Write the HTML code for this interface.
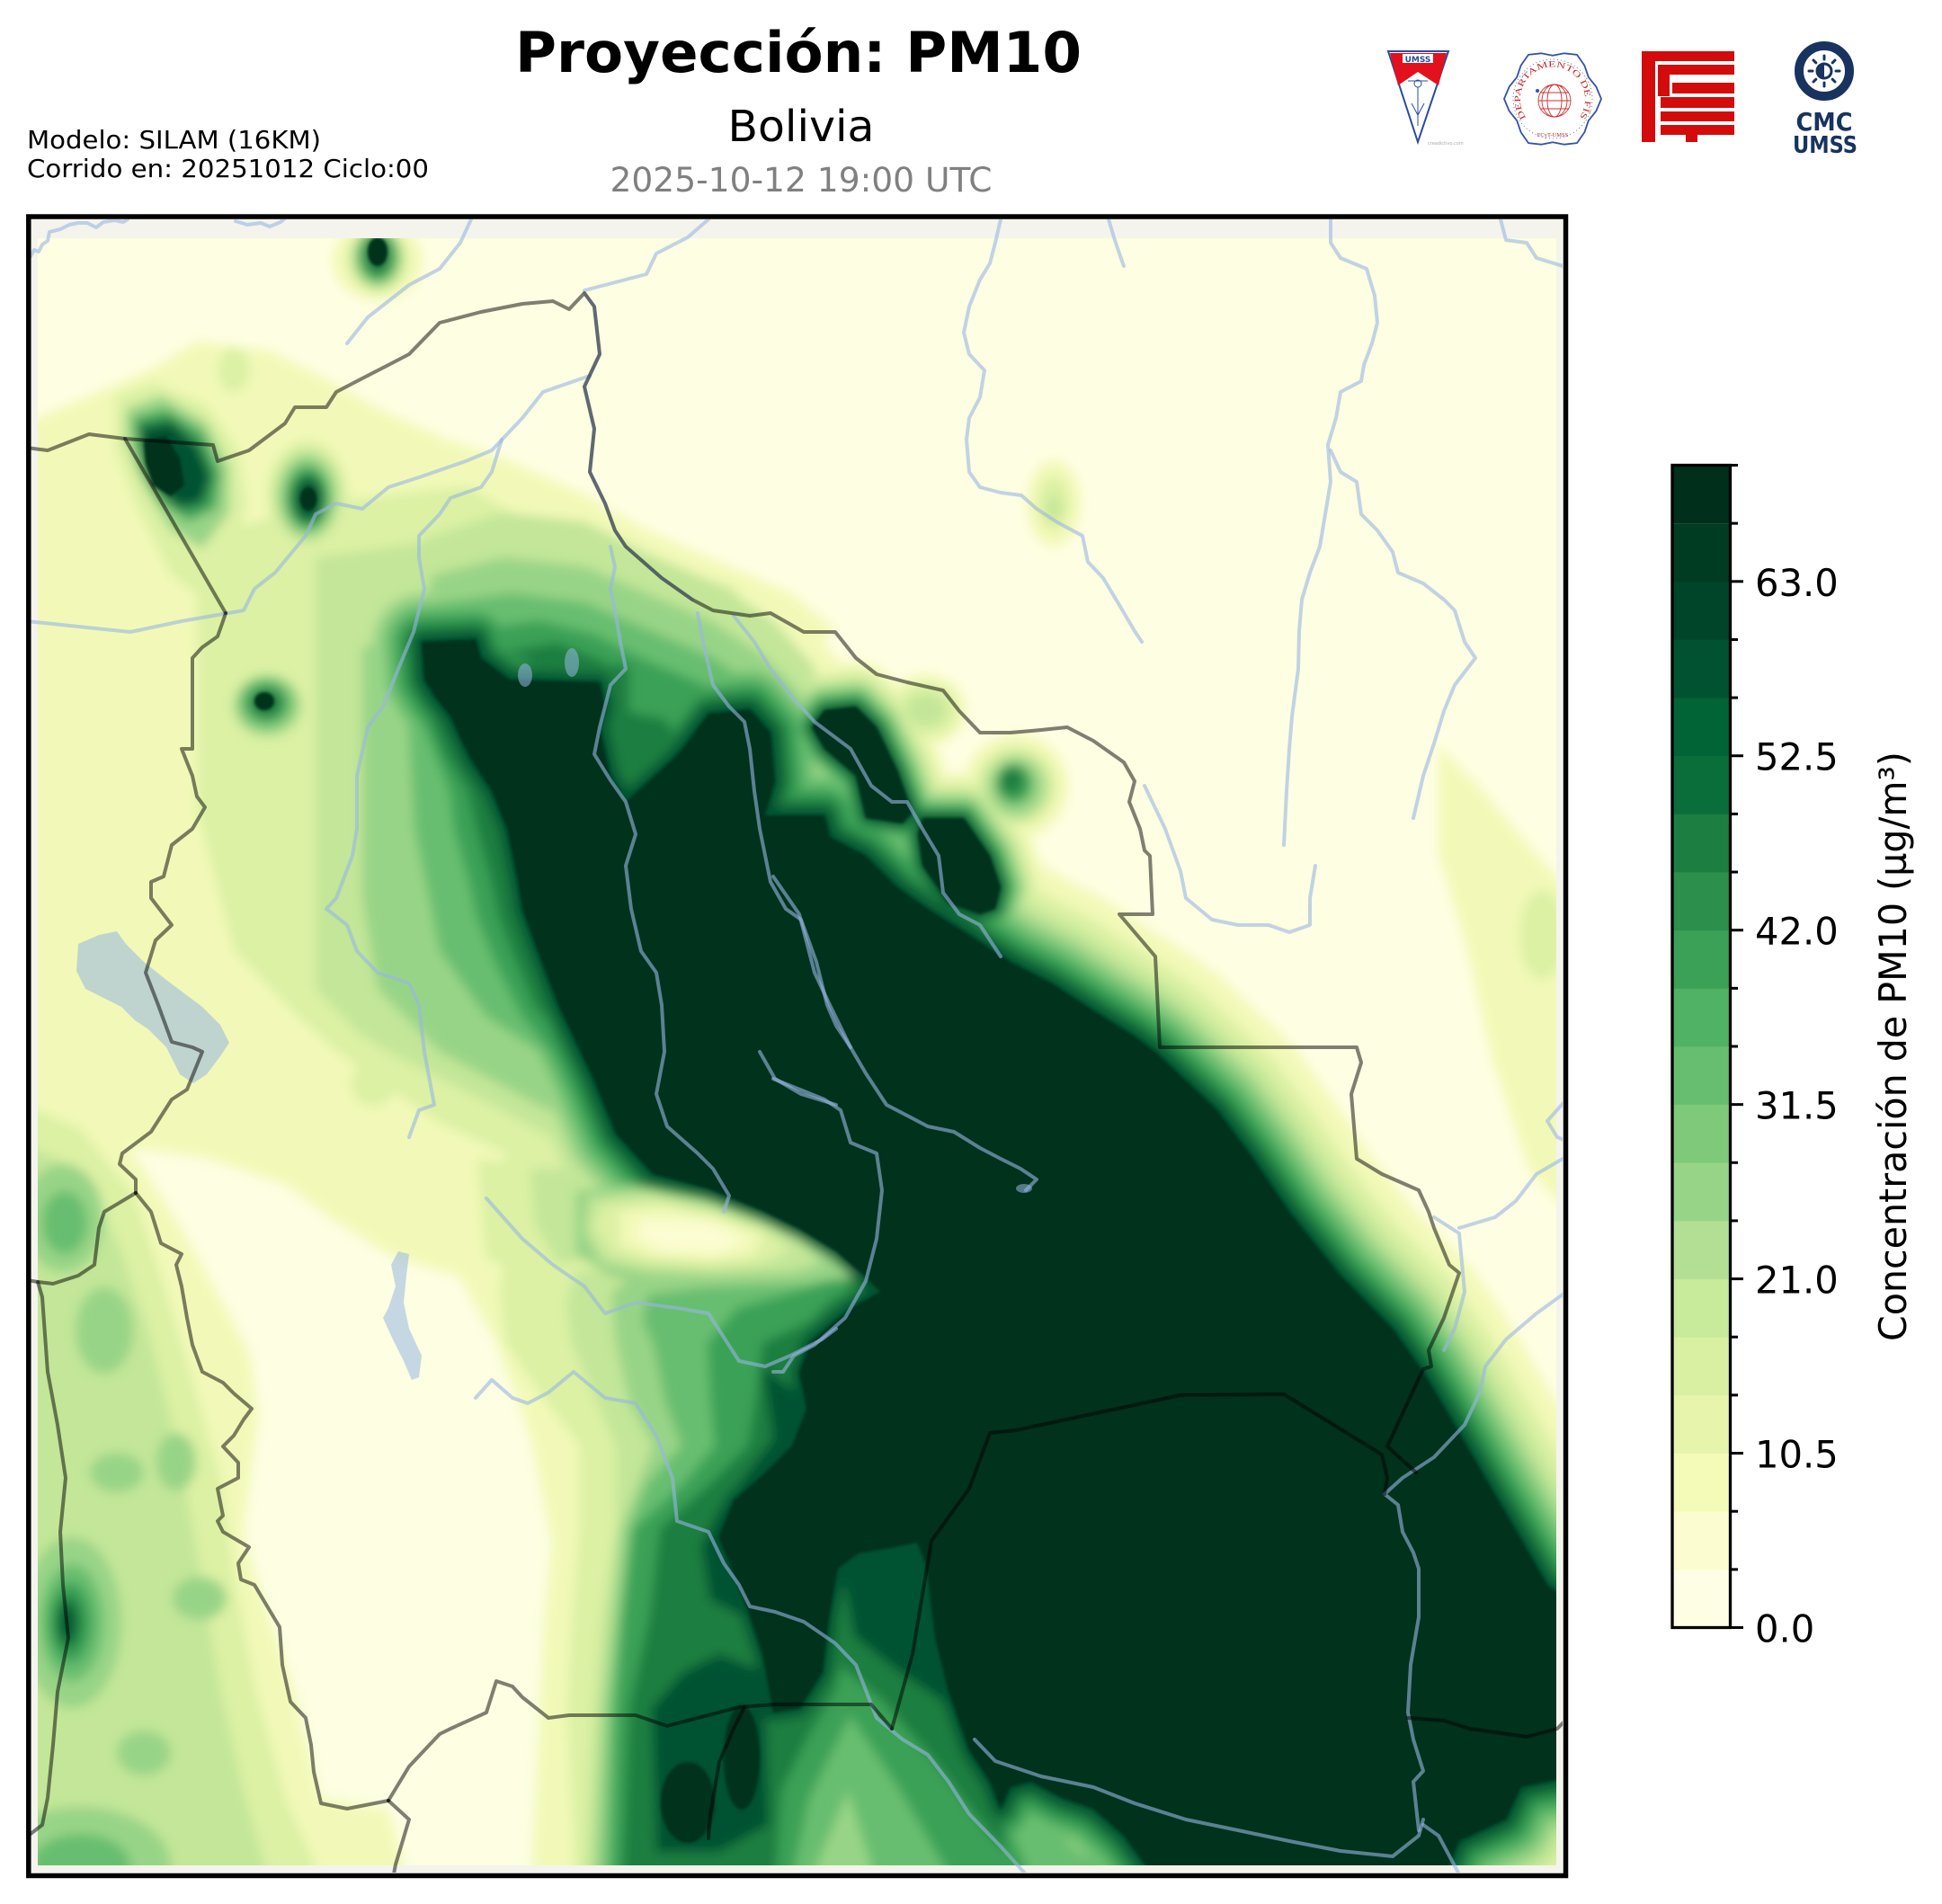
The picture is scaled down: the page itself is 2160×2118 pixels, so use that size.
<!DOCTYPE html>
<html><head><meta charset="utf-8"><style>html,body{margin:0;padding:0;background:#fff}svg{display:block}</style></head>
<body>
<svg xmlns="http://www.w3.org/2000/svg" width="2160" height="2118" viewBox="0 0 2160 2118" font-family="'DejaVu Sans','Liberation Sans',sans-serif">
<defs>
<clipPath id="dc"><rect x="42" y="265" width="1689" height="1810"/></clipPath>
<clipPath id="ac"><rect x="34.5" y="244" width="1703.5" height="1839"/></clipPath>
<filter id="bl" x="-5%" y="-5%" width="110%" height="110%"><feGaussianBlur stdDeviation="6"/></filter>
<filter id="bl2" x="-5%" y="-5%" width="110%" height="110%"><feGaussianBlur stdDeviation="1.5"/></filter>
<path id="D" d="M469,714 L529,711 535,732 567,756 667,759 673,786 667,809 679,863 696,892 748,845 759,833 788,794 834,789 857,815 862,869 851,907 917,907 923,931 963,952 998,987 1032,1011 1078,1040 1124,1070 1170,1094 1216,1124 1262,1153 1285,1170 1354,1235 1394,1289 1434,1348 1491,1419 1549,1478 1583,1526 1618,1585 1652,1644 1687,1704 1721,1763 1745,1781 1745,1977 1692,1988 1675,2024 1623,2048 1606,2090 1285,2090 1250,2042 1216,2012 1181,2000 1147,1982 1124,1988 1113,2012 1101,1982 1078,1947 1055,1882 1040,1822 1030,1740 1020,1716 990,1722 955,1728 932,1745 922,1800 915,1860 890,1900 860,1905 848,1840 832,1792 816,1751 799,1710 816,1669 848,1641 881,1608 897,1567 889,1527 901,1494 930,1469 950,1453 979,1437 962,1420 930,1392 889,1367 848,1347 787,1322 726,1306 685,1261 660,1200 621,1118 598,1058 581,1011 575,975 564,922 547,880 524,845 512,821 501,797 483,774 472,756 Z"/>
<path id="BA" d="M903,809 L917,790 952,786 975,809 998,857 1015,904 1004,916 963,910 952,863 917,833Z"/>
<path id="BB" d="M1021,928 L1026,910 1072,910 1101,952 1113,987 1107,1011 1090,1017 1055,1005 1026,963Z"/>
<path id="arc" d="M1697.5,131 A36,36 0 1,1 1756.5,131"/>
</defs>

<rect x="0" y="0" width="2160" height="2118" fill="#ffffff"/>

<!-- Header text -->
<text x="888" y="80" font-size="62" font-weight="bold" text-anchor="middle" textLength="630" lengthAdjust="spacingAndGlyphs" fill="#000">Proyección: PM10</text>
<text x="891" y="157" font-size="48.5" text-anchor="middle" textLength="163" lengthAdjust="spacingAndGlyphs" fill="#000">Bolivia</text>
<text x="891" y="213" font-size="37.5" text-anchor="middle" textLength="425" lengthAdjust="spacingAndGlyphs" fill="#808080">2025-10-12 19:00 UTC</text>
<text x="30" y="165" font-size="28" textLength="327" lengthAdjust="spacingAndGlyphs" fill="#000">Modelo: SILAM (16KM)</text>
<text x="30" y="197" font-size="28" textLength="447" lengthAdjust="spacingAndGlyphs" fill="#000">Corrido en: 20251012 Ciclo:00</text>

<!-- Logos -->
<g>
<polygon points="1544,57 1611,57 1577,158" fill="#fff" stroke="#2b4c9b" stroke-width="2"/>
<polygon points="1546,59 1609,59 1600,95 1577,80 1555,95" fill="#e3101e"/>
<rect x="1560" y="60" width="34" height="10" fill="#fff"/>
<text x="1577" y="69" font-size="9" font-weight="bold" fill="#2b4c9b" text-anchor="middle">UMSS</text>
<g stroke="#2b4c9b" stroke-width="1" fill="none"><circle cx="1577" cy="93" r="4"/><line x1="1577" y1="97" x2="1577" y2="140"/><line x1="1570" y1="115" x2="1577" y2="128"/><line x1="1584" y1="115" x2="1577" y2="128"/><line x1="1566" y1="90" x2="1588" y2="90"/></g>
<text x="1588" y="161" font-size="5" fill="#aaaaaa">creadictivo.com</text>

<polygon points="1781,110 1775.3,123.6 1766.8,134.2 1762.4,147.1 1754,159.1 1739.9,160.7 1727,158.3 1714.1,160.7 1700,159.1 1691.6,147.1 1687.2,134.2 1678.7,123.6 1673,110 1678.7,96.4 1687.2,85.8 1691.6,72.9 1700,60.9 1714.1,59.3 1727,61.7 1739.9,59.3 1754,60.9 1762.4,72.9 1766.8,85.8 1775.3,96.4" fill="#fff" stroke="#3552a8" stroke-width="1.8" stroke-linejoin="round"/>
<circle cx="1727" cy="110" r="44" fill="none" stroke="#3552a8" stroke-width="0.8" stroke-dasharray="1 3"/>
<text font-size="9.5" fill="#c82828" font-family="'Liberation Serif',serif"><textPath href="#arc" textLength="180" lengthAdjust="spacingAndGlyphs">DEPARTAMENTO DE FÍSICA</textPath></text>
<g fill="none" stroke="#d03030" stroke-width="0.9"><circle cx="1729" cy="112" r="18"/><ellipse cx="1729" cy="112" rx="8" ry="18"/><ellipse cx="1729" cy="112" rx="14" ry="18"/><line x1="1711" y1="112" x2="1747" y2="112"/><line x1="1713" y1="103" x2="1745" y2="103"/><line x1="1713" y1="121" x2="1745" y2="121"/></g>
<circle cx="1710" cy="101" r="2" fill="#3552a8"/>
<text x="1727" y="152" font-size="6.5" fill="#c82828" text-anchor="middle" font-family="'Liberation Serif',serif">FCyT-UMSS</text>

<g fill="#d30b0b">
<rect x="1826" y="57" width="103" height="11"/>
<rect x="1826" y="57" width="15" height="101"/>
<rect x="1844" y="72" width="85" height="11"/>
<rect x="1844" y="72" width="13" height="35"/>
<rect x="1860" y="92" width="69" height="12"/>
<rect x="1847" y="108" width="82" height="12"/>
<rect x="1847" y="124" width="82" height="11"/>
<rect x="1847" y="139" width="82" height="11"/>
<rect x="1875" y="150" width="13" height="8"/>
</g>

<circle cx="2029" cy="79" r="28" fill="none" stroke="#18335f" stroke-width="10"/>
<circle cx="2029" cy="79" r="8" fill="none" stroke="#18335f" stroke-width="3"/>
<path d="M2029,71 A8,8 0 0,0 2029,87 Z" fill="#18335f"/>
<g stroke="#18335f" stroke-width="3" stroke-linecap="round">
<line x1="2042" y1="79" x2="2046" y2="79"/><line x1="2038.2" y1="88.2" x2="2041" y2="91"/><line x1="2029" y1="92" x2="2029" y2="96"/><line x1="2019.8" y1="88.2" x2="2017" y2="91"/><line x1="2016" y1="79" x2="2012" y2="79"/><line x1="2019.8" y1="69.8" x2="2017" y2="67"/><line x1="2029" y1="66" x2="2029" y2="62"/><line x1="2038.2" y1="69.8" x2="2041" y2="67"/>
</g>
<text x="2029" y="145" font-size="28" font-weight="bold" fill="#18335f" text-anchor="middle" textLength="63" lengthAdjust="spacingAndGlyphs">CMC</text>
<text x="2030" y="170" font-size="26" font-weight="bold" fill="#18335f" text-anchor="middle" textLength="72" lengthAdjust="spacingAndGlyphs">UMSS</text>
</g>

<!-- Map axes background -->
<rect x="34.5" y="244" width="1703.5" height="1839" fill="#f4f4ec"/>

<g clip-path="url(#dc)">
<rect x="42" y="265" width="1689" height="1810" fill="#fefee2"/>
<g filter="url(#bl)" stroke-linejoin="round">
<!-- L1 -->
<polygon fill="#f2f9b8" points="30,470 100,440 170,410 219,380 300,390 360,420 432,460 500,490 560,510 650,550 720,590 800,625 880,660 930,700 860,760 700,1200 700,2095 30,2095"/>
<polygon fill="#fdfee2" points="145,1277 231,1289 317,1318 374,1360 440,1400 510,1420 555,1500 590,1600 610,1700 630,1800 625,1900 633,2000 604,2095 455,2095 432,2012 357,2000 328,1882 288,1763 271,1704 288,1573 277,1502 202,1366"/>
<g fill="#f2f9b8" stroke="#f2f9b8" stroke-width="0">
<polygon points="1600,830 1650,880 1700,940 1745,990 1745,1350 1700,1300 1660,1180 1630,1050 1600,950"/>
<ellipse cx="1172" cy="560" rx="30" ry="48"/>
<ellipse cx="420" cy="290" rx="50" ry="45"/>
<ellipse cx="200" cy="545" rx="90" ry="130"/>
<ellipse cx="342" cy="550" rx="55" ry="72"/>
<ellipse cx="1130" cy="875" rx="58" ry="58"/>
<ellipse cx="1030" cy="790" rx="45" ry="40"/>
<ellipse cx="310" cy="790" rx="65" ry="55"/>
<polygon points="600,1400 700,1400 980,1410 990,2095 590,2095 600,1900 605,1800 615,1700 603,1608 560,1520 540,1440"/>
<use href="#D" stroke-width="220"/>
<use href="#BA" stroke-width="100"/><use href="#BB" stroke-width="100"/>
</g>
<!-- L2 -->
<g fill="#dcf1a4" stroke="#dcf1a4" stroke-width="0">
<polygon points="30,1230 90,1255 150,1330 180,1420 210,1520 245,1640 262,1760 285,1880 318,2000 360,2095 30,2095"/>
<polygon points="219,600 219,900 260,1058 330,1130 374,1170 489,1250 575,1289 650,1300 700,1200 700,650 520,540 350,560"/>
<polygon points="530,1290 640,1295 690,1320 680,1420 600,1425 540,1400"/>
<polygon points="128,440 170,425 230,450 265,500 275,560 260,620 230,670 190,640 150,560 128,500"/>
<ellipse cx="342" cy="550" rx="45" ry="60"/>
<ellipse cx="300" cy="788" rx="55" ry="48"/>
<polygon points="290,760 330,770 395,815 395,845 350,840 300,815"/>
<ellipse cx="1130" cy="875" rx="45" ry="45"/>
<ellipse cx="1172" cy="560" rx="18" ry="30"/>
<ellipse cx="802" cy="670" rx="22" ry="22"/>
<ellipse cx="1715" cy="1040" rx="25" ry="50"/>
<ellipse cx="1030" cy="790" rx="35" ry="30"/>
<ellipse cx="260" cy="412" rx="18" ry="25"/>
<ellipse cx="415" cy="1206" rx="25" ry="25"/>
<ellipse cx="581" cy="1283" rx="20" ry="15"/>
<polygon points="560,1400 650,1400 760,1402 880,1400 970,1415 980,1900 640,2095 630,1900 636,1800 644,1700 644,1608 600,1550 562,1494 555,1440"/>
<polygon points="860,1850 940,1750 1030,1725 1320,2095 860,2095"/>
<use href="#D" stroke-width="170"/>
<use href="#BA" stroke-width="80"/><use href="#BB" stroke-width="80"/>
</g>
<!-- L3 -->
<g fill="#c3e698" stroke="#c3e698" stroke-width="0">
<polygon points="30,1275 90,1300 130,1380 165,1480 200,1620 225,1760 245,1880 270,1990 300,2095 30,2095"/>
<polygon points="351,620 351,1100 400,1150 432,1170 550,1230 640,1280 700,1250 700,700 500,600"/>
<polygon points="590,1300 650,1300 690,1330 670,1400 620,1405 595,1360"/>
<polygon points="470,600 560,570 650,580 720,615 800,650 860,690 905,740 903,809 700,760 470,714"/>
<ellipse cx="420" cy="288" rx="32" ry="36"/>
<ellipse cx="342" cy="552" rx="38" ry="52"/>
<ellipse cx="298" cy="786" rx="40" ry="36"/>
<ellipse cx="1172" cy="565" rx="8" ry="14"/>
<ellipse cx="802" cy="670" rx="12" ry="12"/>
<ellipse cx="1030" cy="790" rx="22" ry="18"/>
<ellipse cx="1130" cy="875" rx="38" ry="38"/>
<polygon points="640,1415 720,1410 820,1408 920,1405 970,1420 980,1900 660,2095 650,2095 660,1900 669,1800 685,1700 685,1608 660,1550 636,1494 630,1450"/>
<polygon points="860,1850 940,1760 1030,1730 1300,2095 860,2095"/>
<use href="#D" stroke-width="136"/>
<use href="#BA" stroke-width="64"/><use href="#BB" stroke-width="64"/>
</g>
<!-- L4 -->
<g fill="#98d487" stroke="#98d487" stroke-width="0">
<ellipse cx="70" cy="1355" rx="45" ry="60"/>
<ellipse cx="80" cy="1805" rx="55" ry="95"/>
<ellipse cx="90" cy="2075" rx="100" ry="65"/>
<ellipse cx="130" cy="1638" rx="30" ry="22"/>
<ellipse cx="196" cy="1626" rx="22" ry="32"/>
<ellipse cx="222" cy="1778" rx="30" ry="24"/>
<ellipse cx="116" cy="1480" rx="32" ry="48"/>
<ellipse cx="160" cy="1950" rx="30" ry="25"/>
<polygon points="403,720 403,1000 420,1100 489,1170 600,1230 690,1270 700,1200 700,750 470,700"/>
<polygon points="480,640 560,620 650,630 720,660 790,690 850,730 900,780 700,760 470,714"/>
<polygon points="140,455 180,440 230,470 255,520 255,570 225,610 190,590 160,540 140,490"/>
<ellipse cx="342" cy="552" rx="32" ry="45"/>
<ellipse cx="1130" cy="875" rx="30" ry="32"/>
<ellipse cx="297" cy="784" rx="35" ry="32"/>
<polygon points="700,1420 800,1418 900,1415 960,1420 980,1500 980,1900 900,2095 660,2095 670,1900 680,1800 690,1700 726,1608 700,1560 685,1494 680,1440"/>
<polygon points="900,1850 950,1760 1030,1735 1120,1960 1290,2095 880,2095 870,1990"/>
<use href="#D" stroke-width="108"/>
<use href="#BA" stroke-width="50"/><use href="#BB" stroke-width="50"/>
</g>
<!-- L5 -->
<g fill="#68be70" stroke="#68be70" stroke-width="0">
<ellipse cx="72" cy="1360" rx="25" ry="35"/>
<ellipse cx="80" cy="1805" rx="35" ry="65"/>
<ellipse cx="90" cy="2075" rx="55" ry="35"/>
<polygon points="450,740 461,922 489,1058 540,1130 600,1170 680,1230 700,1180 650,900 540,740"/>
<polygon points="490,670 570,660 650,670 720,700 790,730 850,770 860,800 700,760 470,714"/>
<ellipse cx="420" cy="286" rx="24" ry="30"/>
<ellipse cx="296" cy="782" rx="30" ry="28"/>
<ellipse cx="342" cy="553" rx="26" ry="38"/>
<polygon points="960,1425 880,1428 780,1432 720,1440 715,1470 726,1494 740,1560 758,1608 720,1650 700,1700 688,1800 678,1900 670,2095 900,2095 940,2000 980,1900 980,1500"/>
<polygon points="930,1780 1030,1740 1090,1940 1140,2010 1200,2060 1270,2095 975,2095 930,1950 915,1860"/>
<use href="#D" stroke-width="84"/>
<use href="#BA" stroke-width="38"/><use href="#BB" stroke-width="38"/>
</g>
<!-- L6 -->
<g fill="#3aa157" stroke="#3aa157" stroke-width="0">
<ellipse cx="78" cy="1805" rx="24" ry="45"/>
<polygon points="148,465 185,455 225,480 245,525 240,565 210,580 180,560 155,520"/>
<ellipse cx="342" cy="554" rx="22" ry="33"/>
<ellipse cx="1128" cy="872" rx="20" ry="22"/>
<polygon points="530,700 600,690 660,705 720,735 780,760 840,790 700,770 520,714"/>
<polygon points="455,730 460,780 480,830 500,880 505,922 520,975 530,1020 550,1070 580,1130 620,1180 660,1230 700,1230 700,730"/>
<polygon points="660,745 720,752 790,780 800,810 770,840 720,870 700,900 680,860 670,790"/>
<polygon points="940,1420 880,1438 820,1455 787,1494 790,1560 795,1608 760,1650 705,1700 693,1800 685,1900 680,2095 880,2095 900,2000 950,1900 960,1800 950,1500"/>
<polygon points="930,1760 1030,1740 1060,1900 1100,1990 1130,2050 1150,2095 1061,2095 1000,1990 940,1900 920,1840"/>
<use href="#D" stroke-width="60"/>
<use href="#BA" stroke-width="26"/><use href="#BB" stroke-width="26"/>
</g>
<!-- L7 -->
<g fill="#1d7e41" stroke="#1d7e41" stroke-width="0">
<ellipse cx="76" cy="1805" rx="15" ry="30"/>
<ellipse cx="420" cy="284" rx="17" ry="24"/>
<ellipse cx="296" cy="782" rx="20" ry="18"/>
<ellipse cx="1125" cy="868" rx="12" ry="14"/>
<ellipse cx="343" cy="555" rx="18" ry="27"/>
<polygon points="560,725 620,715 670,735 700,760 660,760"/>
<polygon points="462,740 475,790 495,840 520,880 530,922 545,975 555,1020 570,1060 595,1120 630,1160 665,1210 700,1200 700,740"/>
<polygon points="690,790 740,800 760,833 720,870 700,890 685,850"/>
<polygon points="930,1440 900,1470 848,1494 840,1560 832,1608 790,1650 734,1700 722,1800 700,1900 692,2095 862,2095 870,1990 900,1930 930,1880 940,1800 930,1600"/>
<polygon points="930,1745 1020,1718 1045,1830 1070,1920 1110,2000 1120,2060 1100,2040 1040,1960 980,1890 930,1850"/>
<use href="#D" stroke-width="38"/>
<use href="#BA" stroke-width="16"/><use href="#BB" stroke-width="16"/>
</g>
<!-- L8 -->
<g fill="#005230" stroke="#005230" stroke-width="0">
<ellipse cx="75" cy="1805" rx="8" ry="20"/>
<polygon points="155,475 190,468 220,495 235,530 225,560 200,565 175,545 160,510"/>
<ellipse cx="343" cy="555" rx="15" ry="22"/>
<polygon points="725,1900 760,1860 800,1840 850,1860 855,2030 800,2060 730,2060"/>
<polygon points="935,1740 1020,1720 1040,1820 1060,1900 1000,1860 950,1820"/>
<polygon points="848,1520 860,1600 830,1640 800,1680 780,1720 790,1780 830,1800 880,1700 900,1560"/>
<use href="#D" stroke-width="18"/>
<use href="#BA" stroke-width="8"/><use href="#BB" stroke-width="8"/>
</g>
<!-- gap between palm and thumb -->
<polygon fill="#98d487" points="640,1325 700,1318 787,1335 848,1358 889,1378 925,1400 950,1422 900,1425 820,1428 740,1428 680,1420 640,1395"/>
<polygon fill="#c3e698" points="655,1332 720,1325 787,1340 848,1362 889,1382 915,1405 880,1415 800,1418 720,1415 670,1405 650,1370"/>
<polygon fill="#dcf1a4" points="670,1340 730,1335 790,1347 848,1367 880,1390 850,1405 790,1410 720,1405 680,1395 660,1365"/>
<polygon fill="#f2f9b8" points="690,1347 740,1343 800,1355 850,1375 835,1397 790,1402 725,1398 690,1385"/>
<polygon fill="#fbfdd2" points="715,1356 790,1360 830,1378 800,1394 735,1391 708,1375"/>
</g>
<!-- dark cores -->
<g fill="#00301e" filter="url(#bl2)">
<use href="#D"/>
<use href="#BA"/>
<use href="#BB"/>
<ellipse cx="420" cy="280" rx="11" ry="16"/>
<polygon points="160,490 185,485 200,510 205,540 190,552 170,540 162,515"/>
<ellipse cx="343" cy="555" rx="9" ry="13"/>
<ellipse cx="294" cy="780" rx="11" ry="10"/>
<ellipse cx="765" cy="2005" rx="30" ry="45"/>
<ellipse cx="825" cy="1955" rx="20" ry="58"/>
</g>
</g>

<!-- Lakes, rivers, borders -->
<g clip-path="url(#ac)">
<g fill="#97b6e2" fill-opacity="0.55">
<polygon points="87,1050 110,1040 130,1036 140,1050 160,1070 185,1090 205,1105 225,1120 245,1140 255,1160 245,1175 230,1195 215,1205 200,1195 185,1165 165,1145 150,1135 135,1120 115,1110 95,1100 85,1080"/>
<polygon points="443,1392 455,1395 452,1419 449,1449 455,1478 469,1508 466,1532 458,1535 449,1514 437,1490 426,1466 432,1455 440,1431 435,1407"/>
<ellipse cx="584" cy="751" rx="8" ry="13"/>
<ellipse cx="636" cy="737" rx="8" ry="16"/>
<ellipse cx="1139" cy="1322" rx="9" ry="5"/>
</g>
<g fill="none" stroke="#97b6e2" stroke-opacity="0.6" stroke-width="4" stroke-linejoin="round" stroke-linecap="round">
<polyline points="34,285 38,278 43,280 47,272 53,268 55,258 67,255 77,250 87,248 97,248 107,253 115,247 127,245 137,247 142,244"/>
<polyline points="262,246 275,250 290,248 300,252 312,247 318,242"/>
<polyline points="524,244 512,270 489,299 455,317 432,335 409,353 386,382"/>
<polyline points="788,244 765,264 730,282 719,305 673,317 650,323"/>
<polyline points="656,418 604,436 581,465 547,501 518,513 466,531 432,542 403,566 374,560 351,572 340,596 306,637 283,655 271,679 254,682 202,691 145,703 87,697 30,691"/>
<polyline points="558,489 547,525 535,542 501,554 489,572 466,596 466,620 472,655 460,703 443,744 426,786 409,809 397,863 397,922 392,952 374,999 363,1011 386,1029 397,1058 420,1082 455,1094 466,1118 472,1170 483,1229 466,1235 455,1265"/>
<polyline points="679,608 684,631 679,655 684,679 690,714 696,744 679,762 667,809 661,839 679,868 696,892 707,928 696,963 702,1011 713,1058 730,1082 736,1118 739,1170 730,1217 742,1253 776,1283 793,1300 811,1330 805,1348"/>
<polyline points="776,682 782,714 793,762 811,786 828,803 834,833 839,880 845,922 857,981 874,1011 891,1023 908,1070 920,1118 930,1141 946,1165 963,1194 986,1229 1032,1253 1061,1259 1090,1277 1113,1289 1135,1300 1153,1312 1141,1324"/>
<polyline points="860,975 889,1017 906,1082 923,1118 946,1165"/>
<polyline points="816,685 839,714 857,744 880,774 906,803 946,833 969,874 992,892 1009,892 1026,922 1044,952 1049,993 1067,1017 1090,1029 1113,1064"/>
<polyline points="541,1333 581,1378 615,1407 650,1431 673,1461 707,1449 753,1455 788,1461 822,1514 851,1520 879,1508 914,1490 930,1478"/>
<polyline points="529,1555 547,1535 570,1555 587,1561 610,1549 638,1526 673,1555 707,1561 730,1597 748,1644 753,1692 788,1704 805,1739 822,1763 834,1787 862,1793 894,1804 929,1828 952,1852 975,1911 1004,1935 1032,1952 1055,1982 1078,2018 1113,2054 1141,2085"/>
<polyline points="845,1170 862,1200 891,1217 930,1229"/>
<polyline points="860,1200 917,1223 935,1235 946,1271 975,1283 981,1324 975,1378 963,1425 940,1466 906,1496 883,1508 871,1526 860,1526"/>
<polyline points="1084,1935 1107,1959 1158,1976 1216,1988 1262,2006 1319,2024 1377,2036 1434,2048 1491,2059 1549,2065 1578,2042 1583,2024"/>
<polyline points="1578,2036 1572,1982 1583,1970 1572,1935 1566,1905 1569,1852 1578,1799 1578,1745 1572,1727 1560,1704 1555,1674 1540,1662 1560,1644 1595,1621 1629,1585 1646,1549 1652,1520 1675,1490 1709,1461 1745,1435"/>
<polyline points="1583,2030 1600,2042 1623,2085"/>
<polyline points="1595,1354 1623,1372 1629,1437 1618,1478 1606,1502"/>
<polyline points="1623,1366 1663,1354 1686,1336 1709,1306 1745,1285"/>
<polyline points="1745,1220 1721,1247 1732,1265 1745,1270"/>
<polyline points="1113,244 1107,270 1101,293 1090,311 1078,341 1072,370 1078,394 1095,412 1090,442 1078,465 1075,489 1078,525 1090,542 1113,548 1136,551 1153,566 1176,581 1204,596 1210,625 1227,643 1245,673 1262,702 1270,714"/>
<polyline points="1233,244 1239,264 1245,282 1250,296"/>
<polyline points="1480,244 1480,270 1491,287 1520,299 1529,329 1532,359 1526,382 1517,406 1514,424 1491,436 1486,465 1477,495 1480,536 1474,572 1468,608 1457,637 1448,667 1445,702 1444,744 1437,797 1434,833 1431,880 1428,940"/>
<polyline points="1480,501 1491,525 1509,536 1514,572 1532,590 1549,614 1555,637 1583,649 1606,667 1618,679 1629,714 1641,732 1618,762 1606,791 1595,827 1583,863 1572,910"/>
<polyline points="1669,244 1675,267 1698,270 1709,287 1745,298"/>
<polyline points="1273,874 1296,922 1313,969 1319,999 1348,1023 1377,1029 1411,1029 1434,1037 1457,1029 1457,999 1463,963"/>
<polyline points="650,326 661,341 667,394 650,430 661,477 656,525 673,560 684,590 696,608 736,643 770,667"/>
</g>
<g fill="none" stroke="#000" stroke-opacity="0.5" stroke-width="4" stroke-linejoin="round" stroke-linecap="round">
<polyline points="30,498 53,501 99,483 139,488 237,495 242,513 277,501 317,471 328,453 363,453 374,436 397,424 432,406 455,394 489,359 535,347 581,338 615,335 633,344 650,326 661,341 667,394 650,430 661,477 656,525 673,560 684,590 696,608 736,643 770,667 793,679 834,685 857,682 894,703 929,703 952,732 975,750 1009,759 1049,768 1067,791 1090,815 1124,815 1158,812 1187,809 1216,824 1250,848 1262,869 1256,892 1268,922 1273,946 1279,952 1282,1017 1245,1017 1285,1064 1290,1165 1509,1165 1514,1182 1503,1217 1509,1289 1537,1306 1578,1324 1589,1348 1595,1366 1612,1407 1623,1416 1606,1466 1589,1502 1592,1520 1583,1523 1543,1609 1575,1638"/>
<polyline points="139,488 251,682"/>
<polyline points="251,682 248,691 242,708 225,720 214,732 214,833 202,833 214,863 219,886 228,898 214,922 191,940 182,975 168,981 168,999 191,1029 173,1046 162,1082 176,1118 191,1159 214,1165 225,1170 208,1212 191,1223 168,1259 136,1283 133,1295 151,1312 151,1327"/>
<polyline points="151,1327 116,1348 110,1366 105,1407 87,1419 59,1428 42,1426 30,1424"/>
<polyline points="42,1426 47,1443 53,1526 64,1585 73,1644 67,1704 70,1763 76,1822 64,1882 59,1941 53,2000 47,2030 34,2040"/>
<polyline points="151,1327 168,1348 179,1383 202,1395 196,1407 202,1431 208,1466 214,1496 225,1526 248,1538 260,1550 280,1567 271,1579 260,1597 248,1609 265,1627 265,1644 242,1656 248,1686 242,1692 248,1704 277,1721 265,1739 268,1757 283,1763 311,1810 314,1852 323,1893 340,1911 346,1941 349,1971 357,2006 386,2012 432,2003"/>
<polyline points="432,2003 455,2024 440,2074 437,2090"/>
<polyline points="432,2003 455,1965 489,1929 501,1923 541,1905 552,1870 570,1876 581,1888 610,1911 633,1908 707,1908 742,1920 822,1899 862,1896 969,1896 992,1923"/>
<polyline points="828,1899 815,1925 800,1960 795,1990 790,2020 788,2045"/>
<polyline points="992,1923 1015,1840 1036,1714 1078,1656 1101,1594 1130,1591 1313,1552 1428,1551 1537,1618 1543,1644 1540,1662"/>
<polyline points="1566,1911 1606,1914 1635,1923 1698,1932 1732,1923 1745,1910"/>
</g>
</g>

<!-- Map frame -->
<rect x="31.8" y="241" width="1709.7" height="1845.5" fill="none" stroke="#000" stroke-width="5.5"/>

<!-- Colorbar -->
<g>
<rect x="1860" y="1745.85" width="64.5" height="65" fill="#fefee5"/>
<rect x="1860" y="1681.2" width="64.5" height="65" fill="#fbfdd0"/>
<rect x="1860" y="1616.55" width="64.5" height="65" fill="#f4fbb8"/>
<rect x="1860" y="1551.9" width="64.5" height="65" fill="#e6f5ab"/>
<rect x="1860" y="1487.25" width="64.5" height="65" fill="#d9f0a3"/>
<rect x="1860" y="1422.6" width="64.5" height="65" fill="#c8ea9b"/>
<rect x="1860" y="1357.95" width="64.5" height="65" fill="#b2df93"/>
<rect x="1860" y="1293.3" width="64.5" height="65" fill="#98d487"/>
<rect x="1860" y="1228.65" width="64.5" height="65" fill="#7fc97a"/>
<rect x="1860" y="1164" width="64.5" height="65" fill="#68be70"/>
<rect x="1860" y="1099.35" width="64.5" height="65" fill="#50b264"/>
<rect x="1860" y="1034.7" width="64.5" height="65" fill="#3aa157"/>
<rect x="1860" y="970.05" width="64.5" height="65" fill="#2c8f4b"/>
<rect x="1860" y="905.4" width="64.5" height="65" fill="#1d7e41"/>
<rect x="1860" y="840.75" width="64.5" height="65" fill="#0a6e3b"/>
<rect x="1860" y="776.1" width="64.5" height="65" fill="#006436"/>
<rect x="1860" y="711.45" width="64.5" height="65" fill="#005230"/>
<rect x="1860" y="646.8" width="64.5" height="65" fill="#00452a"/>
<rect x="1860" y="582.15" width="64.5" height="65" fill="#003c22"/>
<rect x="1860" y="517.5" width="64.5" height="64.65" fill="#002f1c"/>
<rect x="1860" y="517.5" width="64.5" height="1293" fill="none" stroke="#000" stroke-width="3.3"/>
<g stroke="#000" stroke-width="3">
<line x1="1924.5" y1="1810.5" x2="1939" y2="1810.5"/>
<line x1="1924.5" y1="1616.55" x2="1939" y2="1616.55"/>
<line x1="1924.5" y1="1422.6" x2="1939" y2="1422.6"/>
<line x1="1924.5" y1="1228.65" x2="1939" y2="1228.65"/>
<line x1="1924.5" y1="1034.7" x2="1939" y2="1034.7"/>
<line x1="1924.5" y1="840.75" x2="1939" y2="840.75"/>
<line x1="1924.5" y1="646.8" x2="1939" y2="646.8"/>
<line x1="1924.5" y1="1745.85" x2="1933" y2="1745.85"/>
<line x1="1924.5" y1="1681.2" x2="1933" y2="1681.2"/>
<line x1="1924.5" y1="1551.9" x2="1933" y2="1551.9"/>
<line x1="1924.5" y1="1487.25" x2="1933" y2="1487.25"/>
<line x1="1924.5" y1="1357.95" x2="1933" y2="1357.95"/>
<line x1="1924.5" y1="1293.3" x2="1933" y2="1293.3"/>
<line x1="1924.5" y1="1164" x2="1933" y2="1164"/>
<line x1="1924.5" y1="1099.35" x2="1933" y2="1099.35"/>
<line x1="1924.5" y1="970.05" x2="1933" y2="970.05"/>
<line x1="1924.5" y1="905.4" x2="1933" y2="905.4"/>
<line x1="1924.5" y1="776.1" x2="1933" y2="776.1"/>
<line x1="1924.5" y1="711.45" x2="1933" y2="711.45"/>
<line x1="1924.5" y1="582.15" x2="1933" y2="582.15"/>
<line x1="1924.5" y1="517.5" x2="1933" y2="517.5"/>
</g>
<g font-size="41.67" fill="#000">
<text x="1952" y="1826.5">0.0</text>
<text x="1952" y="1632.5">10.5</text>
<text x="1952" y="1438.6">21.0</text>
<text x="1952" y="1244.6">31.5</text>
<text x="1952" y="1050.7">42.0</text>
<text x="1952" y="856.7">52.5</text>
<text x="1952" y="662.8">63.0</text>
</g>
<text transform="translate(2120,1164) rotate(-90)" text-anchor="middle" font-size="41.67" textLength="656" lengthAdjust="spacingAndGlyphs" fill="#000">Concentración de PM10 (µg/m³)</text>
</g>
</svg>
</body></html>
